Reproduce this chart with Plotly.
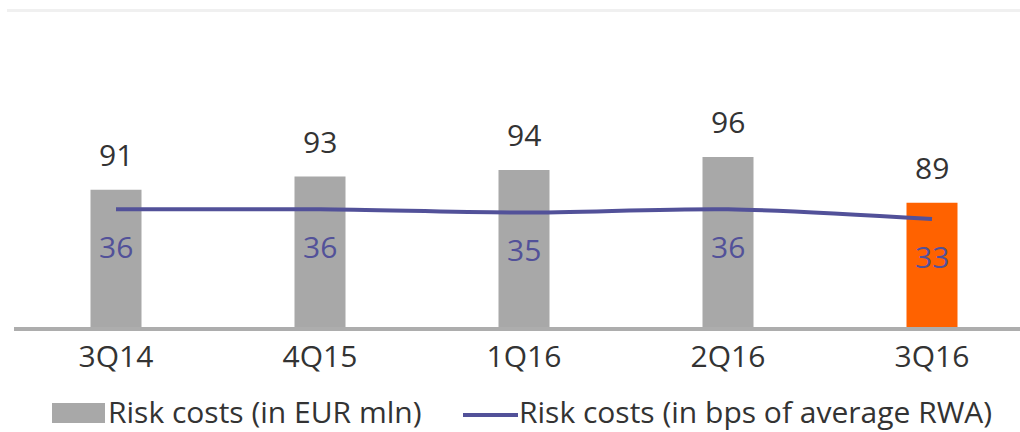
import plotly.graph_objects as go

categories = ["3Q14", "4Q15", "1Q16", "2Q16", "3Q16"]
risk_costs_eur = [91, 93, 94, 96, 89]
risk_costs_bps = [36, 36, 35, 36, 33]
bar_colors = ["#a8a8a8", "#a8a8a8", "#a8a8a8", "#a8a8a8", "#ff6200"]
legend_labels = ["Risk costs (in EUR mln)", "Risk costs (in bps of average RWA)"]

FONT = "Open Sans"
TEXT = "#333333"
LINE = "#525199"

W, H = 1020, 432
ML, MR, MT, MB = 14, 0, 0, 105
PW, PH = W - ML - MR, H - MT - MB


def px(x):
    return (x - ML) / PW


def py(y):
    return 1 - (y - MT) / PH


fig = go.Figure()
fig.add_trace(go.Bar(x=categories, y=risk_costs_eur, marker=dict(color=bar_colors, line=dict(width=0)),
                     name=legend_labels[0], showlegend=False, yaxis="y", hoverinfo="skip"))
fig.add_trace(go.Scatter(x=categories, y=risk_costs_bps, mode="lines",
                         line=dict(color=LINE, width=4, shape="spline", smoothing=0.8),
                         name=legend_labels[1], showlegend=False, yaxis="y2", hoverinfo="skip"))

annotations = []
for c, v in zip(categories, risk_costs_eur):
    annotations.append(dict(x=c, y=v, xref="x", yref="y", text=str(v), showarrow=False,
                            yanchor="bottom", yshift=13, font=dict(family=FONT, size=30, color=TEXT)))
for c, v in zip(categories, risk_costs_bps):
    annotations.append(dict(x=c, y=v, xref="x", yref="y2", text=str(v), showarrow=False,
                            yanchor="middle", yshift=-37, font=dict(family=FONT, size=30, color=LINE)))

# custom legend
annotations.append(dict(x=px(106), y=py(411), xref="paper", yref="paper", text=legend_labels[0],
                        showarrow=False, xanchor="left", yanchor="middle",
                        font=dict(family=FONT, size=30, color=TEXT)))
annotations.append(dict(x=px(517), y=py(411), xref="paper", yref="paper", text=legend_labels[1],
                        showarrow=False, xanchor="left", yanchor="middle",
                        font=dict(family=FONT, size=30, color=TEXT)))

shapes = [
    dict(type="line", xref="paper", yref="paper", x0=px(7), x1=px(1020), y0=py(10.5), y1=py(10.5),
         line=dict(color="#f0f0f0", width=3)),
    dict(type="rect", xref="paper", yref="paper", x0=px(52), x1=px(105), y0=py(423), y1=py(403),
         fillcolor="#a8a8a8", line=dict(width=0)),
    dict(type="line", xref="paper", yref="paper", x0=px(463), x1=px(518), y0=py(415), y1=py(415),
         line=dict(color=LINE, width=4)),
]

fig.update_layout(
    width=W, height=H,
    margin=dict(l=ML, r=MR, t=MT, b=MB),
    paper_bgcolor="white", plot_bgcolor="white",
    bargap=0.75,
    showlegend=False,
    hovermode=False,
    xaxis=dict(range=[-0.5, -0.5 + PW / 204], showgrid=False, showline=True, linecolor="#adadad",
               linewidth=4, ticks="", tickfont=dict(family=FONT, size=30, color=TEXT), fixedrange=True),
    yaxis=dict(range=[70, 120], visible=False, showgrid=False, fixedrange=True),
    yaxis2=dict(range=[0, 100], visible=False, showgrid=False, overlaying="y", side="right", fixedrange=True),
    annotations=annotations,
    shapes=shapes,
)

fig.write_html("out.html", config={"displayModeBar": False},
               post_script="document.body.style.margin='0';document.body.style.overflow='hidden';")
